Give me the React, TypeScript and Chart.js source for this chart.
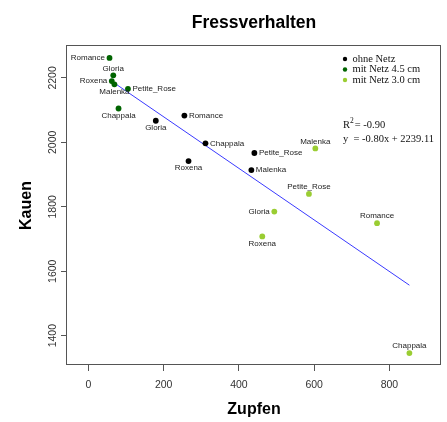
import React, { useEffect, useRef } from 'react';
import { Chart, registerables } from 'chart.js';

Chart.register(...registerables);

// ---------------- data ----------------
const seriesNames = ['ohne Netz', 'mit Netz 4.5 cm', 'mit Netz 3.0 cm'];
const seriesColors = ['#000000', '#006400', '#9ACD32'];

const blackNames = ['Romance', 'Gloria', 'Chappala', 'Petite_Rose', 'Roxena', 'Malenka'];
const blackZupfen = [255, 179, 311, 441, 266, 433];
const blackKauen = [2083, 2067, 1997, 1967, 1942, 1914];
const blackLabelPos = ['right', 'below', 'right', 'right', 'below', 'right'];

const darkNames = ['Romance', 'Gloria', 'Roxena', 'Malenka', 'Petite_Rose', 'Chappala'];
const darkZupfen = [56, 66, 62, 69, 105, 80];
const darkKauen = [2262, 2208, 2190, 2180, 2166, 2105];
const darkLabelPos = ['left', 'above', 'left', 'below', 'right', 'below'];

const lightNames = ['Malenka', 'Petite_Rose', 'Gloria', 'Roxena', 'Romance', 'Chappala'];
const lightZupfen = [603, 586, 494, 462, 767, 853];
const lightKauen = [1981, 1840, 1785, 1708, 1749, 1346];
const lightLabelPos = ['above', 'above', 'left', 'below', 'above', 'above'];

const fitSlope = -0.8;
const fitIntercept = 2239.11;
const rText = '-0.90';
const eqText = 'y  = -0.80x + 2239.11';

const xTicks = [0, 200, 400, 600, 800];
const yTicks = [1400, 1600, 1800, 2000, 2200];

const titleText = 'Fressverhalten';
const xTitle = 'Zupfen';
const yTitle = 'Kauen';

// ---------------- helpers ----------------
const SANS = '"Liberation Sans", Arial, sans-serif';
const SERIF = '"Liberation Serif", "Times New Roman", serif';

const toPoints = (xs: number[], ys: number[]) => xs.map((x, i) => ({ x, y: ys[i] }));

const labelSets = [
  { names: blackNames, pos: blackLabelPos },
  { names: darkNames, pos: darkLabelPos },
  { names: lightNames, pos: lightLabelPos },
];

const annotate = {
  id: 'annotate',
  afterDraw(chart: any) {
    const ctx = chart.ctx as CanvasRenderingContext2D;
    const a = chart.chartArea;
    const xs = chart.scales.x;
    const ys = chart.scales.y;
    ctx.save();

    // frame
    ctx.strokeStyle = '#555555';
    ctx.lineWidth = 1;
    ctx.strokeRect(Math.round(a.left) - 0.5, Math.round(a.top) - 0.5, Math.round(a.right - a.left), Math.round(a.bottom - a.top));

    // point labels
    ctx.font = '8px ' + SANS;
    ctx.fillStyle = '#222222';
    labelSets.forEach((set, i) => {
      const meta = chart.getDatasetMeta(i);
      meta.data.forEach((el: any, j: number) => {
        const p = set.pos[j];
        let tx = el.x;
        let ty = el.y;
        ctx.textBaseline = 'middle';
        if (p === 'left') { ctx.textAlign = 'right'; tx -= 4.5; }
        else if (p === 'right') { ctx.textAlign = 'left'; tx += 4.5; }
        else if (p === 'above') { ctx.textAlign = 'center'; ty -= 7; }
        else { ctx.textAlign = 'center'; ty += 7; }
        ctx.fillText(set.names[j], tx, ty);
      });
    });

    // tick labels
    ctx.fillStyle = '#333333';
    ctx.font = '10.5px ' + SANS;
    ctx.textAlign = 'center';
    ctx.textBaseline = 'middle';
    xs.ticks.forEach((t: any) => {
      ctx.fillText(String(t.value), xs.getPixelForValue(t.value), 385);
    });
    ys.ticks.forEach((t: any) => {
      const py = ys.getPixelForValue(t.value);
      ctx.save();
      ctx.translate(53, py);
      ctx.rotate(-Math.PI / 2);
      ctx.fillText(String(t.value), 0, 0);
      ctx.restore();
    });

    // titles
    ctx.fillStyle = '#000000';
    ctx.font = 'bold 17.5px ' + SANS;
    ctx.fillText(titleText, (a.left + a.right) / 2, 23);
    ctx.font = 'bold 16px ' + SANS;
    ctx.fillText(xTitle, (a.left + a.right) / 2, 410);
    ctx.save();
    ctx.translate(27, (a.top + a.bottom) / 2);
    ctx.rotate(-Math.PI / 2);
    ctx.fillText(yTitle, 0, 0);
    ctx.restore();

    // legend
    ctx.font = '10.5px ' + SERIF;
    ctx.textAlign = 'left';
    seriesNames.forEach((name, i) => {
      const ly = 59 + i * 10.5;
      ctx.fillStyle = seriesColors[i];
      ctx.beginPath();
      ctx.arc(345, ly, 2.2, 0, Math.PI * 2);
      ctx.fill();
      ctx.fillStyle = '#111111';
      ctx.fillText(name, 352.5, ly);
    });

    // R^2 and equation
    ctx.fillStyle = '#111111';
    ctx.font = '10.5px ' + SERIF;
    const rx = 343;
    const ry = 125;
    ctx.fillText('R', rx, ry);
    const rw = ctx.measureText('R').width;
    ctx.font = '7.5px ' + SERIF;
    ctx.fillText('2', rx + rw, ry - 3.5);
    const sw = ctx.measureText('2').width;
    ctx.font = '10.5px ' + SERIF;
    ctx.fillText('= ' + rText, rx + rw + sw + 1, ry);
    ctx.fillText(eqText, rx, ry + 14);

    ctx.restore();
  },
};

export default function App() {
  const ref = useRef<HTMLCanvasElement | null>(null);

  useEffect(() => {
    if (!ref.current) return;
    const allX = [...blackZupfen, ...darkZupfen, ...lightZupfen];
    const x0 = Math.min(...allX);
    const x1 = Math.max(...allX);
    const fit = [
      { x: x0, y: fitIntercept + fitSlope * x0 },
      { x: x1, y: fitIntercept + fitSlope * x1 },
    ];
    const pointDs = (data: any[], color: string, label: string) => ({
      label,
      data,
      backgroundColor: color,
      borderColor: color,
      pointRadius: 2.9,
      pointBorderWidth: 0,
      showLine: false,
    });
    const chart = new Chart(ref.current, {
      type: 'scatter',
      data: {
        datasets: [
          pointDs(toPoints(blackZupfen, blackKauen), seriesColors[0], seriesNames[0]),
          pointDs(toPoints(darkZupfen, darkKauen), seriesColors[1], seriesNames[1]),
          pointDs(toPoints(lightZupfen, lightKauen), seriesColors[2], seriesNames[2]),
          {
            label: 'fit',
            data: fit,
            showLine: true,
            borderColor: '#3a3aff',
            borderWidth: 1,
            pointRadius: 0,
            backgroundColor: '#3a3aff',
          } as any,
        ],
      },
      options: {
        responsive: false,
        animation: false,
        devicePixelRatio: 1,
        layout: { padding: { top: 46, right: 6, left: 0, bottom: 0 } },
        plugins: {
          legend: { display: false },
          title: { display: false },
          tooltip: { enabled: false },
        },
        events: [],
        scales: {
          x: {
            type: 'linear',
            min: -57,
            max: 937,
            afterBuildTicks: (s: any) => { s.ticks = xTicks.map((v) => ({ value: v })); },
            afterFit: (s: any) => { s.height = 57; },
            ticks: { display: false },
            border: { display: false },
            grid: { drawOnChartArea: false, drawTicks: true, tickLength: 6, color: '#555555', lineWidth: 1 },
          },
          y: {
            type: 'linear',
            min: 1309,
            max: 2299,
            afterBuildTicks: (s: any) => { s.ticks = yTicks.map((v) => ({ value: v })); },
            afterFit: (s: any) => { s.width = 67; },
            ticks: { display: false },
            border: { display: false },
            grid: { drawOnChartArea: false, drawTicks: true, tickLength: 6, color: '#555555', lineWidth: 1 },
          },
        },
      },
      plugins: [annotate],
    });
    return () => chart.destroy();
  }, []);

  return (
    <div style={{ position: 'absolute', left: 0, top: 0, width: 447, height: 422, background: '#ffffff' }}>
      <canvas ref={ref} width={447} height={422} style={{ display: 'block', width: 447, height: 422 }} />
    </div>
  );
}
